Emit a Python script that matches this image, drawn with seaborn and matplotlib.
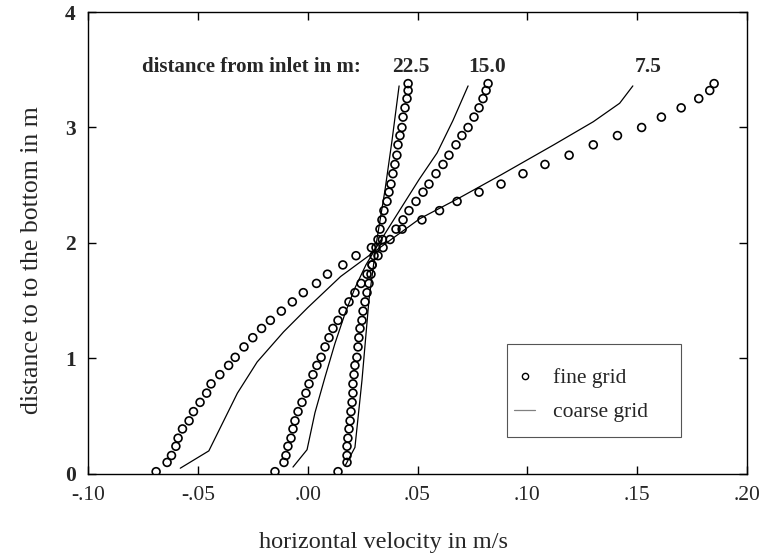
import numpy as np
import pandas as pd
import matplotlib
matplotlib.use("Agg")
import matplotlib.pyplot as plt
import seaborn as sns
from matplotlib.lines import Line2D
from matplotlib.patches import Rectangle

# ---- data ----
y_fine = [0.02, 0.10, 0.16, 0.24, 0.31, 0.39, 0.46, 0.54, 0.62, 0.70, 0.78,
          0.86, 0.94, 1.01, 1.10, 1.18, 1.26, 1.33, 1.41, 1.49, 1.57, 1.65,
          1.73, 1.81, 1.89, 1.96, 2.03, 2.12, 2.20, 2.28, 2.36, 2.44, 2.51,
          2.60, 2.68, 2.76, 2.85, 2.93, 3.00, 3.09, 3.17, 3.25, 3.32, 3.38]

u_fine_75 = [-0.069, -0.064, -0.062, -0.060, -0.059, -0.057, -0.054, -0.052,
             -0.049, -0.046, -0.044, -0.040, -0.036, -0.033, -0.029, -0.025,
             -0.021, -0.017, -0.012, -0.007, -0.002, 0.004, 0.009, 0.016,
             0.022, 0.029, 0.034, 0.043, 0.052, 0.060, 0.068, 0.078, 0.088,
             0.098, 0.108, 0.119, 0.130, 0.141, 0.152, 0.161, 0.170, 0.178,
             0.183, 0.185]

u_fine_150 = [-0.0149, -0.0108, -0.0099, -0.0090, -0.0076, -0.0067, -0.0058,
              -0.0044, -0.0026, -0.0008, 0.0006, 0.0024, 0.0042, 0.0061,
              0.0079, 0.0097, 0.0115, 0.0138, 0.0161, 0.0188, 0.0215, 0.0243,
              0.0270, 0.0293, 0.0320, 0.0343, 0.0375, 0.0402, 0.0434, 0.0461,
              0.0493, 0.0525, 0.0552, 0.0584, 0.0616, 0.0643, 0.0675, 0.0702,
              0.0730, 0.0757, 0.0780, 0.0798, 0.0812, 0.0821]

u_fine_225 = [0.0138, 0.0179, 0.0179, 0.0179, 0.0183, 0.0188, 0.0193, 0.0197,
              0.0202, 0.0206, 0.0206, 0.0211, 0.0215, 0.0224, 0.0229, 0.0233,
              0.0238, 0.0247, 0.0252, 0.0261, 0.0270, 0.0279, 0.0288, 0.0293,
              0.0302, 0.0311, 0.0320, 0.0329, 0.0338, 0.0347, 0.0361, 0.0370,
              0.0379, 0.0388, 0.0397, 0.0406, 0.0411, 0.0420, 0.0429, 0.0434,
              0.0443, 0.0452, 0.0457, 0.0457]

y_coarse_75 = [0.05, 0.20, 0.70, 0.97, 1.23, 1.44, 1.71, 1.92, 2.21, 2.39,
               2.59, 2.85, 3.05, 3.21, 3.36]
u_coarse_75 = [-0.058, -0.045, -0.032, -0.023, -0.011, 0.000, 0.015, 0.030,
               0.051, 0.069, 0.088, 0.112, 0.130, 0.142, 0.148]

y_coarse_150 = [0.06, 0.21, 0.53, 0.84, 1.13, 1.39, 1.61, 1.81, 1.97, 2.26,
                2.55, 2.78, 3.06, 3.36]
u_coarse_150 = [-0.0067, -0.0003, 0.0033, 0.0079, 0.0124, 0.0170, 0.0215,
                0.0265, 0.0315, 0.0411, 0.0507, 0.0589, 0.0661, 0.0730]

y_coarse_225 = [0.07, 0.23, 0.81, 1.51, 2.03, 2.46, 2.89, 3.36]
u_coarse_225 = [0.0170, 0.0215, 0.0247, 0.0279, 0.0315, 0.0352, 0.0384, 0.0416]

distances = ["7.5", "15.0", "22.5"]
label_x = [0.1549, 0.0816, 0.0470]

x_ticks = [-0.10, -0.05, 0.00, 0.05, 0.10, 0.15, 0.20]
x_ticklabels = ["-.10", "-.05", ".00", ".05", ".10", ".15", ".20"]
y_ticks = [0, 1, 2, 3, 4]

# ---- tables ----
fine = pd.concat([
    pd.DataFrame({"u": u_fine_75, "z": y_fine, "dist": "7.5"}),
    pd.DataFrame({"u": u_fine_150, "z": y_fine, "dist": "15.0"}),
    pd.DataFrame({"u": u_fine_225, "z": y_fine, "dist": "22.5"}),
], ignore_index=True)
coarse = pd.concat([
    pd.DataFrame({"u": u_coarse_75, "z": y_coarse_75, "dist": "7.5"}),
    pd.DataFrame({"u": u_coarse_150, "z": y_coarse_150, "dist": "15.0"}),
    pd.DataFrame({"u": u_coarse_225, "z": y_coarse_225, "dist": "22.5"}),
], ignore_index=True)

sns.set_theme(style="ticks")
plt.rcParams["font.family"] = ["Liberation Serif", "DejaVu Serif"]

fig = plt.figure(figsize=(7.6, 5.53), dpi=100)
ax = fig.add_axes([0.1158, 0.1429, 0.8672, 0.8354])

for d in distances:
    sub = coarse[coarse["dist"] == d]
    sns.lineplot(data=sub, x="u", y="z", sort=False, estimator=None,
                 color="black", linewidth=0.9, ax=ax, legend=False)
sns.scatterplot(data=fine, x="u", y="z", marker="o", s=32,
                facecolor="none", edgecolor="black", linewidth=1.2,
                ax=ax, legend=False)

ax.set_xlim(-0.10, 0.20)
ax.set_ylim(0, 4)
ax.set_xticks(x_ticks)
ax.set_xticklabels(x_ticklabels, fontsize=15.5)
ax.set_yticks(y_ticks)
ax.set_yticklabels([str(v) for v in y_ticks], fontsize=15.5, fontweight="bold")
ax.tick_params(direction="in", length=6, width=1, top=True, right=True,
               color="black", pad=9)
for s in ax.spines.values():
    s.set_linewidth(1.0)
    s.set_color("black")

ax.set_xlabel("horizontal velocity in m/s", fontsize=17.5)
ax.xaxis.set_label_coords(0.448, -0.125)
ax.set_ylabel("distance to to the bottom in m", fontsize=18.5)
ax.yaxis.set_label_coords(-0.068, 0.463)

ax.text(-0.0754, 3.52, "distance from inlet in m:", fontsize=15,
        fontweight="bold", ha="left", va="center")
for d, lx in zip(distances, label_x):
    ax.text(lx, 3.52, d, fontsize=15.5, fontweight="bold",
            ha="center", va="center")

# legend frame
ax.add_patch(Rectangle((0.636, 0.080), 0.264, 0.201, transform=ax.transAxes,
                       fill=False, edgecolor="#555555", linewidth=0.8,
                       zorder=5))
handles = [
    Line2D([], [], marker="o", linestyle="none", markersize=4.5,
           markerfacecolor="none", markeredgecolor="black",
           markeredgewidth=1.0, label="fine grid"),
    Line2D([], [], color="gray", linewidth=0.9, label="coarse grid"),
]
leg = ax.legend(handles=handles, loc="upper left",
                bbox_to_anchor=(0.646, 0.229), fontsize=15.5,
                frameon=False, borderpad=0,
                handlelength=1.0, handletextpad=0.8, labelspacing=0.65,
                borderaxespad=0)

fig.savefig("out.png", dpi=100)
